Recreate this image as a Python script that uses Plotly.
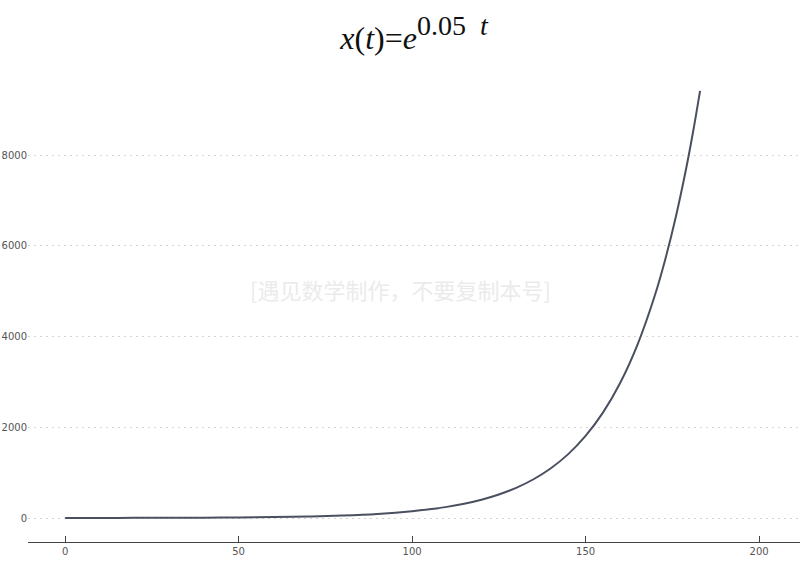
import plotly.graph_objects as go

# values (t, x(t))
t_vals = [0, 10, 20, 30, 40, 50, 60, 70, 80, 90, 100, 105, 110, 115, 120, 125, 130, 135, 140, 145,
          150, 155, 160, 165, 170, 173, 176, 179, 181, 183]
x_vals = [1, 2, 3, 4, 7, 12, 20, 33, 55, 90, 148, 191, 245, 314, 403, 518, 665, 854, 1097, 1408,
          1808, 2322, 2981, 3828, 4915, 5710, 6634, 7707, 8518, 9414]

y_ticks = [0, 2000, 4000, 6000, 8000]
x_ticks = [0, 50, 100, 150, 200]

title_text = ("<i>x</i>(<i>t</i>)=<i>e</i><sup><span style='font-size:28px'>0.05 &nbsp;<i>t</i></span></sup>")
watermark = "[遇见数学制作，不要复制本号]"

fig = go.Figure()
fig.add_trace(go.Scatter(x=t_vals, y=x_vals, mode="lines",
                         line=dict(color="#4a5060", width=2, shape="spline"),
                         hoverinfo="skip", showlegend=False))

fig.update_layout(
    width=800, height=577,
    paper_bgcolor="white", plot_bgcolor="white",
    margin=dict(l=28, r=0, t=80, b=35),
    title=dict(text=title_text, x=0.5, xref="paper", y=0.935, yref="container",
               xanchor="center", yanchor="middle",
               font=dict(family="Liberation Serif", size=32, color="#111")),
    xaxis=dict(range=[-10.7, 211.8], tickvals=x_ticks, showgrid=False, zeroline=False,
               showline=True, linecolor="#444", linewidth=1,
               ticks="inside", ticklen=6, tickcolor="#444",
               tickfont=dict(family="DejaVu Sans", size=10, color="#555"),
               fixedrange=True, automargin=False),
    yaxis=dict(range=[-529, 9653], tickvals=y_ticks, showgrid=True,
               gridcolor="#d2d2d2", griddash="2px,4px", gridwidth=1,
               zeroline=False, showline=False, ticks="",
               tickfont=dict(family="DejaVu Sans", size=10, color="#555"),
               automargin=False, fixedrange=True),
    annotations=[dict(text=watermark, x=0.482, y=0.548, xref="paper", yref="paper",
                      xanchor="center", yanchor="middle", showarrow=False,
                      font=dict(family="Noto Sans CJK SC", size=22, color="#ebebeb"))],
)

fig.write_html("out.html", config={"displayModeBar": False},
               post_script="document.body.style.margin='0';document.body.style.padding='0';")
